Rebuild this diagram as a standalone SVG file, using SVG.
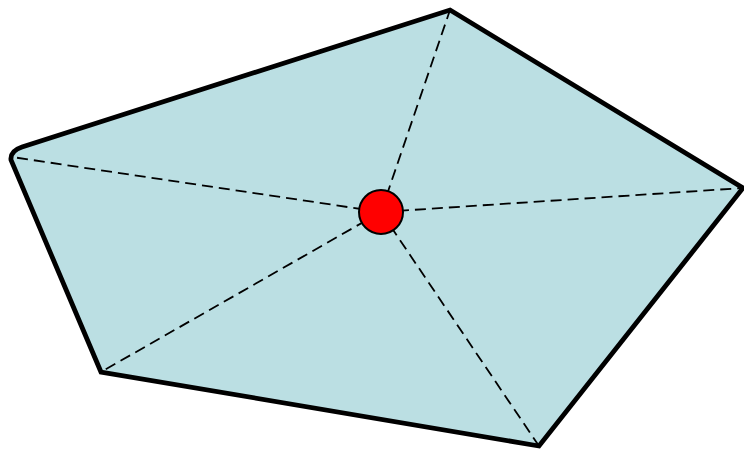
<svg xmlns="http://www.w3.org/2000/svg" width="744" height="450" viewBox="0 0 744 450">
<style>
.poly{fill:#bbdfe3;stroke:#000;stroke-width:4.8;stroke-linejoin:miter}
.dash{stroke:#000;stroke-width:1.8;stroke-dasharray:11,6;fill:none}
.pt{fill:#ff0000;stroke:#000;stroke-width:2}
</style>
<g id="polygon">
<path class="poly" d="M450,10 L743,188 L539,446 L101,372 L11,160 Q10,151 22,147 Z"/>
</g>
<g id="connectors">
<line class="dash" x1="381" y1="212" x2="450" y2="10"/>
<line class="dash" x1="381" y1="212" x2="743" y2="188"/>
<line class="dash" x1="381" y1="212" x2="539" y2="446"/>
<line class="dash" x1="381" y1="212" x2="101" y2="372"/>
<line class="dash" x1="381" y1="212" x2="12" y2="157"/>
</g>
<g id="center">
<circle class="pt" cx="381" cy="212" r="22"/>
</g>
</svg>
